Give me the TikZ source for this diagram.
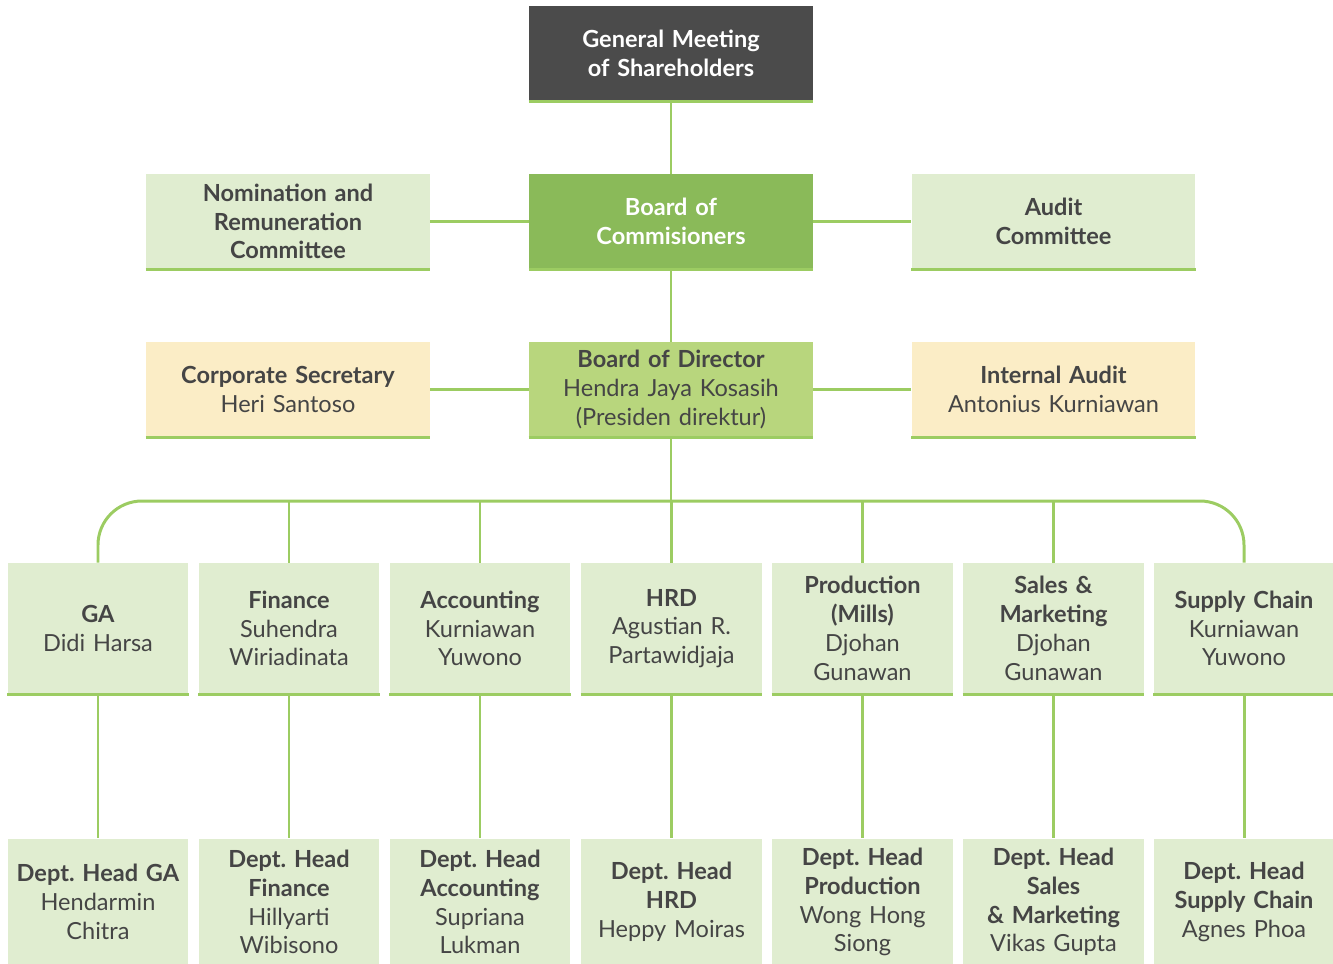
\documentclass[tikz,border=0pt]{standalone}
\usepackage{fontspec}
\setmainfont{Lato}
\frenchspacing
\definecolor{barGreen}{HTML}{9CCC62}
\definecolor{darkFill}{HTML}{4B4B4B}
\definecolor{bocFill}{HTML}{8ABA59}
\definecolor{bodFill}{HTML}{B8D67D}
\definecolor{paleFill}{HTML}{E0EDD0}
\definecolor{sandFill}{HTML}{FBEDC6}
\definecolor{inkGray}{HTML}{454545}
\tikzset{
  box/.style={minimum width=5.68cm, minimum height=1.9cm, text width=5.5cm,
    align=center, inner sep=0pt, text=inkGray,
    font=\fontsize{13.4}{16.4}\selectfont},
  dept/.style={box, minimum width=3.62cm, minimum height=2.62cm, text width=3.55cm},
  head/.style={dept, minimum height=2.54cm},
  link/.style={barGreen, line width=1.7pt},
  bar/.style={barGreen, line width=1.7pt}
}
\begin{document}
\begin{tikzpicture}[x=0.02cm,y=-0.02cm]
    \useasboundingbox (0,0) rectangle (1333,964);

    % top of the chart
    \node[box,fill=darkFill,text=white] (gm) at (671,53.5)
      {\textbf{General Meeting}\\\textbf{of Shareholders}};
    \node[box,fill=bocFill,text=white] (boc) at (671,221.5)
      {\textbf{Board of}\\\textbf{Commisioners}};
    \node[box,fill=paleFill] (nrc) at (288,221.5)
      {\textbf{Nomination and}\\\textbf{Remuneration}\\\textbf{Committee}};
    \node[box,fill=paleFill] (ac) at (1053.5,221.5)
      {\textbf{Audit}\\\textbf{Committee}};
    \node[box,fill=bodFill] (bod) at (671,389.5)
      {\textbf{Board of Director}\\Hendra Jaya Kosasih\\(Presiden direktur)};
    \node[box,fill=sandFill] (cs) at (288,389.5)
      {\textbf{Corporate Secretary}\\Heri Santoso};
    \node[box,fill=sandFill] (ia) at (1053.5,389.5)
      {\textbf{Internal Audit}\\Antonius Kurniawan};

    \draw[link] (gm) -- (boc);
    \draw[link] (boc) -- (bod);
    \draw[link] (nrc) -- (boc) -- (ac);
    \draw[link] (cs) -- (bod) -- (ia);
    \foreach \n in {gm,boc,nrc,ac,bod,cs,ia}
      \draw[bar] (\n.south west) -- (\n.south east);

    % departments and their heads
    \foreach \x/\n/\dtext/\htext in {
      98/ga/{\textbf{GA}\\Didi Harsa}/{\textbf{Dept. Head GA}\\Hendarmin\\Chitra},
      289/fin/{\textbf{Finance}\\Suhendra\\Wiriadinata}/{\textbf{Dept. Head}\\\textbf{Finance}\\Hillyarti\\Wibisono},
      480/acc/{\textbf{Accounting}\\Kurniawan\\Yuwono}/{\textbf{Dept. Head}\\\textbf{Accounting}\\Supriana\\Lukman},
      671.5/hrd/{\textbf{HRD}\\Agustian R.\\Partawidjaja}/{\textbf{Dept. Head}\\\textbf{HRD}\\Heppy Moiras},
      862.5/prod/{\textbf{Production}\\\textbf{(Mills)}\\Djohan\\Gunawan}/{\textbf{Dept. Head}\\\textbf{Production}\\Wong Hong\\Siong},
      1053.5/sm/{\textbf{Sales \&}\\\textbf{Marketing}\\Djohan\\Gunawan}/{\textbf{Dept. Head}\\\textbf{Sales}\\\textbf{\& Marketing}\\Vikas Gupta},
      1244/sc/{\textbf{Supply Chain}\\Kurniawan\\Yuwono}/{\textbf{Dept. Head}\\\textbf{Supply Chain}\\Agnes Phoa}}{
      \node[dept,fill=paleFill] (\n) at (\x,628.5) {\dtext};
      \node[head,fill=paleFill] (\n-h) at (\x,902) {\htext};
      \draw[link] (\n) -- (\n-h);
      \draw[bar] (\n.south west) -- (\n.south east);
    }

    \coordinate (bus) at (671,501);
    \draw[link] (bod) -- (bus);
    \draw[link,rounded corners=25] (ga.north) -- (ga.north |- bus)
      -- (sc.north |- bus) -- (sc.north);
    \foreach \n in {fin,acc,hrd,prod,sm}
      \draw[link] (\n.north |- bus) -- (\n.north);

    \end{tikzpicture}
\end{document}
